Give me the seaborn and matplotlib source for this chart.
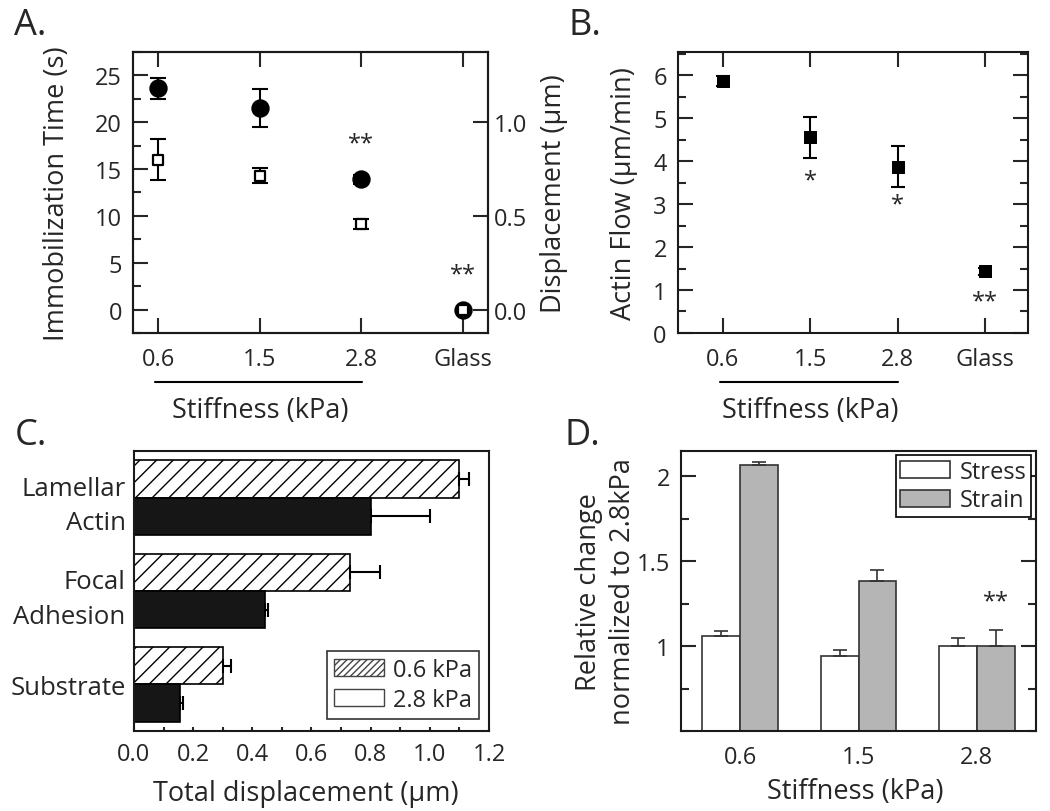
import matplotlib

matplotlib.use("Agg")

import matplotlib.pyplot as plt
import matplotlib.transforms as mtransforms
import numpy as np
import pandas as pd
import seaborn as sns
from matplotlib.patches import Patch
from matplotlib.ticker import FormatStrFormatter, MultipleLocator

# ---- panel A: immobilization time / displacement vs stiffness
stiffness = ["0.6", "1.5", "2.8", "Glass"]
immob_time = [23.6, 21.5, 13.9, 0.0]
immob_err = [1.15, 2.0, 0.5, 0.0]
displacement = [0.80, 0.715, 0.457, 0.0]
displacement_err = [0.11, 0.038, 0.028, 0.0]
immob_star_pos = [2, 3]
immob_star_y = [17.7, 3.8]
immob_star_txt = ["**", "**"]

# ---- panel B: actin flow
actin_flow = [5.87, 4.55, 3.87, 1.44]
actin_flow_err = [0.12, 0.48, 0.47, 0.08]
flow_star_pos = [1, 2, 3]
flow_star_y = [3.54, 3.0, 0.74]
flow_star_txt = ["*", "*", "**"]

# ---- panel C: total displacement by region
regions = ["Lamellar\nActin", "Focal\nAdhesion", "Substrate"]
conditions = ["0.6 kPa", "2.8 kPa"]
disp_06 = [1.10, 0.73, 0.30]
disp_06_err = [0.033, 0.10, 0.028]
disp_28 = [0.80, 0.443, 0.155]
disp_28_err = [0.20, 0.01, 0.011]

# ---- panel D: stress / strain normalized to 2.8 kPa
stiffness_d = ["0.6", "1.5", "2.8"]
measures = ["Stress", "Strain"]
stress = [1.06, 0.94, 1.00]
stress_err = [0.03, 0.037, 0.05]
strain = [2.065, 1.38, 1.00]
strain_err = [0.015, 0.07, 0.095]
strain_star_y = 1.26

FS = 17      # tick labels
LFS = 19.5   # axis labels
sns.set_style("ticks")
plt.rcParams["font.family"] = ["Open Sans", "DejaVu Sans"]
plt.rcParams.update({
    "font.size": FS,
    "axes.linewidth": 1.5,
    "xtick.direction": "in",
    "ytick.direction": "in",
    "xtick.major.width": 1.5,
    "ytick.major.width": 1.5,
    "xtick.minor.width": 1.5,
    "ytick.minor.width": 1.5,
    "xtick.major.size": 11,
    "ytick.major.size": 11,
    "xtick.minor.size": 6,
    "ytick.minor.size": 6,
    "axes.edgecolor": "#1a1a1a",
    "hatch.linewidth": 1.0,
})

fig = plt.figure(figsize=(10.5, 8.12), dpi=100)
ax_a = fig.add_axes([0.1267, 0.5887, 0.3381, 0.3461])
ax_b = fig.add_axes([0.6457, 0.5887, 0.3333, 0.3461])
ax_c = fig.add_axes([0.1276, 0.0985, 0.3381, 0.3448])
ax_d = fig.add_axes([0.6486, 0.0985, 0.3381, 0.3448])


def stiffness_bracket(ax):
    trans = mtransforms.blended_transform_factory(ax.transData, ax.transAxes)
    ax.plot([-0.03, 2.01], [-0.174, -0.174], color="black", lw=1.5,
            transform=trans, clip_on=False)
    ax.text(1.0, -0.275, "Stiffness (kPa)", transform=trans,
            ha="center", va="center", fontsize=LFS)


# ---------------- A
pos = np.arange(len(stiffness))
df_a = pd.DataFrame({"pos": pos, "time": immob_time, "disp": displacement})

ax_a.errorbar(pos, immob_time, yerr=immob_err, fmt="none", ecolor="black",
              elinewidth=1.5, capsize=6, capthick=1.5, zorder=2)
sns.scatterplot(data=df_a, x="pos", y="time", ax=ax_a, marker="o", s=150,
                color="black", edgecolor="black", zorder=3, legend=False)
for p, y, t in zip(immob_star_pos, immob_star_y, immob_star_txt):
    ax_a.text(p, y, t, ha="center", va="center", fontsize=17)

ax_a.set_xlim(-0.25, 3.25)
ax_a.set_ylim(-2.5, 27.5)
ax_a.set_xticks(pos)
ax_a.set_xticklabels(stiffness)
ax_a.yaxis.set_major_locator(MultipleLocator(5))
ax_a.yaxis.set_minor_locator(MultipleLocator(2.5))
ax_a.tick_params(axis="x", top=True, pad=10)
ax_a.tick_params(axis="y", which="both", right=True, pad=8)
ax_a.set_xlabel("")
ax_a.set_ylabel("Immobilization Time (s)", fontsize=LFS)
ax_a.yaxis.set_label_coords(-0.175, 0.5)

ax_a2 = ax_a.twinx()
ax_a2.errorbar(pos, displacement, yerr=displacement_err, fmt="none",
               ecolor="black", elinewidth=1.5, capsize=6, capthick=1.5, zorder=2)
sns.scatterplot(data=df_a, x="pos", y="disp", ax=ax_a2, marker="s", s=45,
                color="white", edgecolor="black", linewidth=1.6, zorder=3,
                legend=False)
ax_a2.set_ylim(-0.125, 1.375)
ax_a2.set_yticks([0.0, 0.5, 1.0])
ax_a2.set_yticklabels(["0.0", "0.5", "1.0"])
ax_a2.tick_params(axis="y", length=11, pad=4)
ax_a2.set_ylabel("Displacement (μm)", fontsize=LFS, rotation=90)
ax_a2.yaxis.set_label_coords(1.146, 0.5)
stiffness_bracket(ax_a)

# ---------------- B
df_b = pd.DataFrame({"pos": pos, "flow": actin_flow})
ax_b.errorbar(pos, actin_flow, yerr=actin_flow_err, fmt="none", ecolor="black",
              elinewidth=1.5, capsize=5, capthick=1.5, zorder=2)
sns.scatterplot(data=df_b, x="pos", y="flow", ax=ax_b, marker="s", s=80,
                color="black", edgecolor="black", zorder=3, legend=False)
for p, y, t in zip(flow_star_pos, flow_star_y, flow_star_txt):
    ax_b.text(p, y, t, ha="center", va="center", fontsize=17)
ax_b.set_xlim(-0.51, 3.49)
ax_b.set_ylim(0, 6.54)
ax_b.set_xticks(pos)
ax_b.set_xticklabels(stiffness)
ax_b.yaxis.set_major_locator(MultipleLocator(1))
ax_b.yaxis.set_minor_locator(MultipleLocator(0.5))
ax_b.tick_params(axis="x", top=True, pad=10)
ax_b.tick_params(axis="y", which="both", right=True, pad=8)
ax_b.set_xlabel("")
ax_b.set_ylabel("Actin Flow (μm/min)", fontsize=LFS)
ax_b.yaxis.set_label_coords(-0.114, 0.5)
stiffness_bracket(ax_b)

# ---------------- C
df_c = pd.DataFrame({
    "region": regions * 2,
    "condition": [conditions[0]] * 3 + [conditions[1]] * 3,
    "disp": disp_06 + disp_28,
})
sns.barplot(data=df_c, y="region", x="disp", hue="condition", orient="h",
            palette=["white", "#161616"], edgecolor="black", linewidth=1.2,
            width=0.8, errorbar=None, legend=False, ax=ax_c)
for bar in ax_c.containers[0]:
    bar.set_hatch("//")
for cont, err in zip(ax_c.containers, [disp_06_err, disp_28_err]):
    ys = [b.get_y() + b.get_height() / 2 for b in cont]
    xs = [b.get_width() for b in cont]
    ax_c.errorbar(xs, ys, xerr=[np.zeros(len(err)), err], fmt="none",
                  ecolor="black", elinewidth=1.5, capsize=5, capthick=1.5)
ax_c.set_xlim(0, 1.2)
ax_c.set_ylim(2.5, -0.5)
ax_c.xaxis.set_major_locator(MultipleLocator(0.2))
ax_c.xaxis.set_minor_locator(MultipleLocator(0.1))
ax_c.xaxis.set_major_formatter(FormatStrFormatter("%.1f"))
ax_c.tick_params(axis="x", which="both", length=3, pad=8)
ax_c.tick_params(axis="y", length=0, pad=6, labelsize=18.5)
for lbl in ax_c.get_yticklabels():
    lbl.set_linespacing(1.5)
ax_c.set_ylabel("")
ax_c.set_xlabel("Total displacement (μm)", fontsize=LFS)
ax_c.xaxis.set_label_coords(0.485, -0.171)
handles_c = [
    Patch(facecolor="white", edgecolor="#444444", hatch="/////", lw=1.0),
    Patch(facecolor="white", edgecolor="#444444", lw=1.0),
]
leg_c = ax_c.legend(handles_c, conditions, loc="lower right",
                    bbox_to_anchor=(0.972, 0.043), borderaxespad=0,
                    frameon=True, fancybox=False, edgecolor="black",
                    handlelength=2.1, handleheight=0.75, labelspacing=0.25,
                    handletextpad=0.4, borderpad=0.3, fontsize=FS)
leg_c.get_frame().set_linewidth(1.2)

# ---------------- D
df_d = pd.DataFrame({
    "stiffness": stiffness_d * 2,
    "measure": [measures[0]] * 3 + [measures[1]] * 3,
    "value": stress + strain,
})
sns.barplot(data=df_d, x="stiffness", y="value", hue="measure",
            palette={"Stress": "white", "Strain": "#b5b5b5"},
            edgecolor="#333333", linewidth=1.2, width=0.64, errorbar=None,
            legend=False, ax=ax_d)
for cont, err in zip(ax_d.containers, [stress_err, strain_err]):
    xs = [b.get_x() + b.get_width() / 2 for b in cont]
    ys = [b.get_height() for b in cont]
    ax_d.errorbar(xs, ys, yerr=[np.zeros(len(err)), err], fmt="none",
                  ecolor="#333333", elinewidth=1.2, capsize=4.7, capthick=1.2)
strain_bar = ax_d.containers[1][2]
ax_d.text(strain_bar.get_x() + strain_bar.get_width() / 2, strain_star_y, "**",
          ha="center", va="center", fontsize=17)
ax_d.set_xlim(-0.5, 2.5)
ax_d.set_ylim(0.5, 2.147)
ax_d.set_yticks([1, 1.5, 2])
ax_d.set_yticklabels(["1", "1.5", "2"])
ax_d.yaxis.set_minor_locator(MultipleLocator(0.25))
ax_d.tick_params(axis="y", which="both", right=True, pad=8)
ax_d.tick_params(axis="x", length=0, pad=10)
ax_d.set_ylabel("Relative change\nnormalized to 2.8kPa", fontsize=LFS,
                linespacing=1.3)
ax_d.yaxis.set_label_coords(-0.124, 0.5)
ax_d.set_xlabel("Stiffness (kPa)", fontsize=LFS)
ax_d.xaxis.set_label_coords(0.49, -0.164)
handles_d = [
    Patch(facecolor="white", edgecolor="#333333", lw=1.2),
    Patch(facecolor="#b5b5b5", edgecolor="#333333", lw=1.2),
]
leg_d = ax_d.legend(handles_d, measures, loc="upper right",
                    bbox_to_anchor=(0.986, 0.986), borderaxespad=0,
                    frameon=True, fancybox=False, edgecolor="black",
                    handlelength=2.1, handleheight=0.75, labelspacing=0.2,
                    handletextpad=0.4, borderpad=0.2, fontsize=FS)
leg_d.get_frame().set_linewidth(1.2)
leg_d.get_frame().set_alpha(1)

# panel letters
for x, y, t in [(0.013, 0.957, "A."), (0.541, 0.957, "B."),
                (0.014, 0.452, "C."), (0.538, 0.452, "D.")]:
    fig.text(x, y, t, fontsize=26, va="baseline", ha="left")

fig.savefig("out.png", dpi=100)
